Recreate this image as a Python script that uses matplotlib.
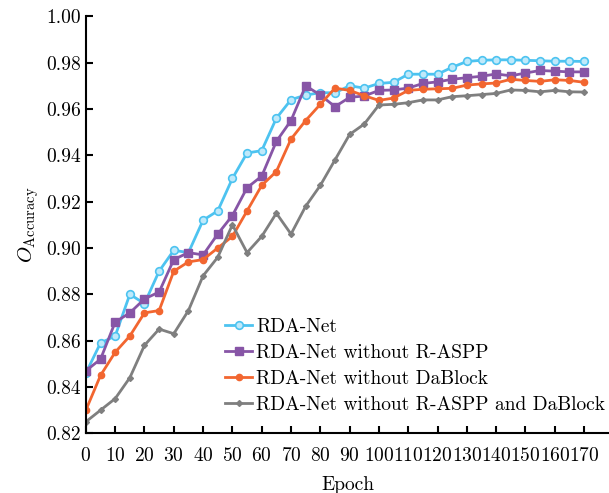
import matplotlib
matplotlib.use("Agg")
import matplotlib.pyplot as plt

plt.rcParams['font.family'] = ['cmr10', 'DejaVu Serif']
plt.rcParams['mathtext.fontset'] = 'cm'
plt.rcParams['axes.formatter.use_mathtext'] = True

epochs = list(range(0, 175, 5))

rda_net = [0.846, 0.859, 0.862, 0.880, 0.876, 0.890, 0.899, 0.898, 0.912, 0.916,
           0.930, 0.941, 0.942, 0.956, 0.964, 0.966, 0.967, 0.967, 0.970, 0.969,
           0.971, 0.9715, 0.975, 0.975, 0.975, 0.978, 0.9805, 0.981, 0.9812, 0.9812,
           0.981, 0.9808, 0.9806, 0.9806, 0.9805]
no_aspp = [0.847, 0.852, 0.868, 0.872, 0.878, 0.881, 0.895, 0.898, 0.897, 0.906,
           0.914, 0.926, 0.931, 0.946, 0.955, 0.970, 0.966, 0.961, 0.965, 0.9656,
           0.968, 0.9682, 0.969, 0.971, 0.9717, 0.9728, 0.9735, 0.9741, 0.9751, 0.9743,
           0.9755, 0.9766, 0.9763, 0.976, 0.976]
no_dablock = [0.830, 0.845, 0.855, 0.862, 0.872, 0.873, 0.890, 0.894, 0.895, 0.900,
              0.905, 0.916, 0.927, 0.933, 0.947, 0.955, 0.962, 0.969, 0.968, 0.9657,
              0.9637, 0.9647, 0.968, 0.9685, 0.9687, 0.9689, 0.9703, 0.9708, 0.9712, 0.9728,
              0.9723, 0.9719, 0.9726, 0.9723, 0.9715]
no_both = [0.825, 0.830, 0.835, 0.844, 0.858, 0.865, 0.863, 0.873, 0.888, 0.896,
           0.910, 0.898, 0.905, 0.915, 0.906, 0.918, 0.927, 0.938, 0.949, 0.9535,
           0.9617, 0.962, 0.9627, 0.9639, 0.9639, 0.9653, 0.9657, 0.9662, 0.9667, 0.9682,
           0.968, 0.9674, 0.968, 0.9674, 0.9673]

labels = ['RDA-Net', 'RDA-Net without R-ASPP', 'RDA-Net without DaBlock',
          'RDA-Net without R-ASPP and DaBlock']

fig = plt.figure(figsize=(6.09, 4.93), dpi=100)
ax = fig.add_axes([0.141, 0.121, 0.859, 0.846])

ax.plot(epochs, rda_net, color='#4dc3f0', lw=2, marker='o', ms=5.5,
        mfc='#bfe9fa', mec='#4dc3f0', mew=1.2, label=labels[0])
ax.plot(epochs, no_aspp, color='#8755a6', lw=2, marker='s', ms=5.5,
        label=labels[1])
ax.plot(epochs, no_dablock, color='#f26630', lw=2, marker='o', ms=4.5,
        label=labels[2])
ax.plot(epochs, no_both, color='#7f7f7f', lw=2, marker='D', ms=3,
        label=labels[3])

ax.set_xlim(0, 178.5)
ax.set_ylim(0.82, 1.00)
ax.set_xticks(range(0, 171, 10))
ax.set_yticks([0.82 + 0.02 * i for i in range(10)])
ax.set_yticklabels(['%.2f' % (0.82 + 0.02 * i) for i in range(10)])
ax.tick_params(direction='in', labelsize=14, width=1.5, length=5)
ax.tick_params(axis='x', pad=10)
ax.spines['top'].set_visible(False)
ax.spines['right'].set_visible(False)
ax.spines['left'].set_linewidth(1.5)
ax.spines['bottom'].set_linewidth(1.5)

ax.set_xlabel('Epoch', fontsize=14, labelpad=8)
ax.set_ylabel(r'$O_{\mathrm{Accuracy}}$', fontsize=15)

ax.legend(loc='upper left', bbox_to_anchor=(0.24, 0.31), frameon=False,
          fontsize=14, handlelength=1.4, handletextpad=0.2, labelspacing=0.42,
          borderpad=0.2)

fig.savefig('out.png', dpi=100)
